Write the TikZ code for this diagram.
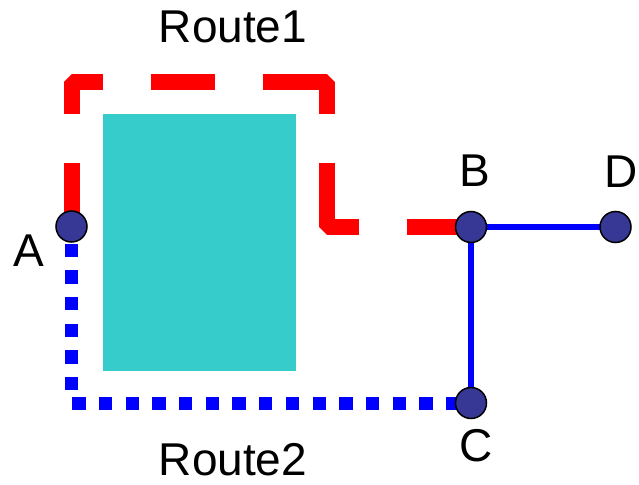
\documentclass[tikz,border=0pt]{standalone}
\usepackage{fontspec}
\setmainfont{Liberation Sans}
\definecolor{obstacle}{RGB}{54,204,204}
\definecolor{stationfill}{RGB}{55,55,150}
\begin{document}
\begin{tikzpicture}[x=1pt,y=-1pt,
  station/.style={circle,draw=black,line width=1.5pt,fill=stationfill,
    minimum size=31pt,inner sep=0pt},
  lbl/.style={font=\fontsize{46}{46}\selectfont,anchor=base,inner sep=0pt},
  routeone/.style={draw=red,line width=16pt,line join=bevel,
    dash pattern=on 63.5pt off 49pt on 63.5pt off 48pt on 64pt off 48pt
      on 96pt off 49pt on 96pt off 48pt on 70pt off 0pt},
  routetwo/.style={draw=blue,line width=13pt,
    dash pattern=on 13.35pt off 13.35pt,dash phase=9.7pt},
  link/.style={draw=blue,line width=6.5pt}]
\useasboundingbox (0,0) rectangle (639,484);
% obstacle
\fill[obstacle] (103,114) rectangle (296,371);
% station positions
\coordinate (pA) at (71.5,226.5);
\coordinate (pB) at (471,227);
\coordinate (pC) at (471,403);
\coordinate (pD) at (615.5,227);
\coordinate (r1a) at (327,82);
% routes
\draw[routeone] (pA) |- (r1a) |- (pB);
\draw[routetwo] (pA) |- (pC);
\draw[link] (pB) -- (pD);
\draw[link] (pB) -- (pC);
% stations
\node[station] (A) at (pA) {};
\node[station] (B) at (pB) {};
\node[station] (C) at (pC) {};
\node[station] (D) at (pD) {};
% labels
\node[lbl] (lA) at (29,266) {A};
\node[lbl] (lB) at (475,186) {B};
\node[lbl] (lC) at (476,461) {C};
\node[lbl] (lD) at (621,187) {D};
\node[lbl] (t1) at (233,43) {Route1};
\node[lbl] (t2) at (233,475) {Route2};
\end{tikzpicture}
\end{document}
